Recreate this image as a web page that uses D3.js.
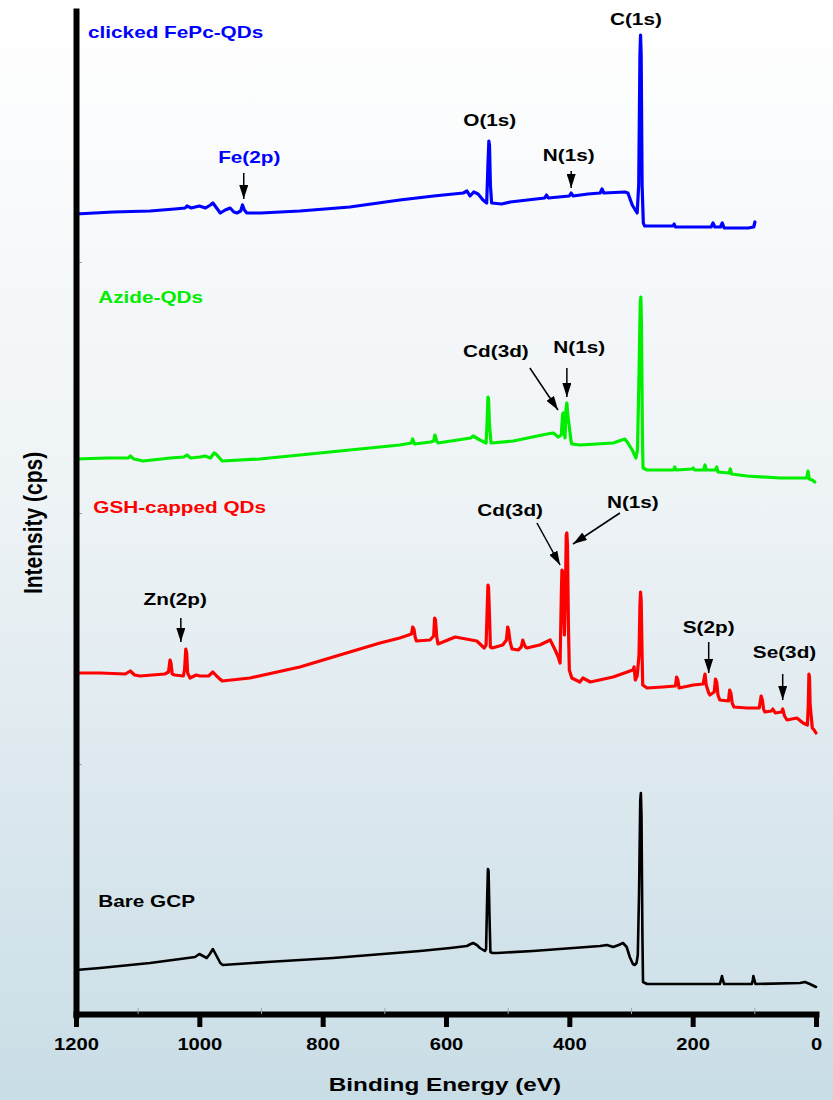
<!DOCTYPE html>
<html>
<head>
<meta charset="utf-8">
<script src="https://cdn.jsdelivr.net/npm/d3@7"></script>
<style>
  body { margin: 0; }
  svg { display: block; }
  text { font-family: "Liberation Sans", Arial, sans-serif; font-weight: bold; }
</style>
</head>
<body>
<div id="chart"></div>
<script>
// Survey XPS spectra, [binding energy (eV), stacked intensity (a.u.)]
const bareSpectrum = [
    [1200, 45], [1161, 47], [1080, 52], [1031, 56], [1007, 58], [1000, 61], [994, 59], [988, 57],
    [983, 61], [978, 66], [972, 59], [966, 52], [962, 50], [890, 53], [783, 57], [642, 64],
    [593, 67], [566, 69], [560, 71], [556, 72], [550, 70], [545, 67], [537, 64], [535, 66],
    [533.5, 110], [532, 146], [531, 144], [529.5, 100], [528, 63], [525, 62], [517, 62], [459, 64],
    [350, 69], [339, 70], [329, 68], [320, 70], [313, 72], [307, 68], [302, 58], [297, 51],
    [294, 50], [291, 52], [289, 60], [287, 120], [285, 215], [284, 222], [283, 200], [281.5, 80],
    [280.5, 33], [274, 31], [156, 31], [154, 35], [152.5, 39], [151, 35], [149, 31], [104, 31],
    [102.5, 35], [101.5, 39], [100, 35], [98, 31], [26, 32], [18, 33], [10, 31], [0, 28]
];

const gshSpectrum = [
    [1200, 342], [1161, 342], [1120, 341], [1112, 344], [1105, 340], [1096, 339], [1056, 341], [1050, 343],
    [1047.5, 355], [1046, 352], [1044, 341], [1040, 340], [1026, 339], [1024, 345], [1022, 366], [1020.5, 362],
    [1019, 342], [1015, 337], [1005, 340], [999, 339], [985, 339], [978, 343], [972, 339], [963, 334],
    [918, 337], [837, 348], [756, 363], [707, 372], [675, 377], [656, 381], [654, 388], [652, 386],
    [650, 378], [648, 374], [626, 375], [620, 379], [618.5, 397], [617, 395], [615, 378], [613, 371],
    [585, 378], [550, 374], [538, 367], [535, 370], [533.5, 400], [532, 430], [531, 428], [529.5, 400],
    [528, 368], [525, 367], [508, 370], [502, 375], [500, 388], [498.5, 385], [496, 373], [493, 366],
    [483, 365], [478, 368], [475.5, 375], [474, 372], [471, 368], [469, 367], [448, 370], [431, 375],
    [423, 365], [418, 358], [415, 352], [413, 420], [412, 445], [411, 443], [409.5, 410], [408, 380],
    [406.5, 420], [405, 480], [404, 482], [403, 470], [401.5, 390], [400, 345], [396, 337], [383, 333],
    [378, 337], [366, 333], [329, 338], [297, 345], [295, 348], [293, 335], [290, 339], [287, 360],
    [285.5, 410], [284.5, 423], [283.5, 415], [282, 360], [281, 330], [274, 327], [248, 328], [228, 329],
    [226, 338], [224, 335], [222, 327], [199, 330], [183, 331], [181, 338], [180, 341], [178, 330],
    [174, 322], [172, 320], [165, 323], [163, 336], [161, 333], [159, 320], [156, 315], [142, 314],
    [140, 325], [138, 322], [136, 312], [133, 308], [112, 307], [92, 307], [89, 319], [87, 315],
    [85, 306], [83, 303], [72, 304], [70, 306], [66, 302], [56, 303], [54, 306], [51, 299],
    [47, 295], [31, 297], [21, 292], [14, 290], [12.5, 310], [11.5, 341], [10.5, 338], [9.5, 310],
    [6, 287], [3, 285], [0, 282]
];

const azideSpectrum = [
    [1200, 556], [1150, 557], [1115, 557], [1112, 559], [1106, 556], [1091, 554], [1047, 557], [1025, 558],
    [1020, 560], [1014, 557], [999, 558], [991, 559], [982, 557], [976, 562], [973, 561], [963, 554],
    [902, 556], [837, 560], [756, 565], [675, 570], [656, 572], [654, 576], [651, 571], [625, 573],
    [620, 574], [618, 580], [615, 574], [613, 572], [560, 577], [556, 579], [545, 575], [535, 572],
    [533.5, 590], [532, 618], [531, 616], [529.5, 590], [527, 572], [491, 574], [436, 581], [426, 582],
    [418, 578], [413, 580], [411, 600], [410, 602], [408.5, 585], [407, 577], [405.5, 605], [404, 612],
    [402.5, 600], [400, 588], [397, 573], [396, 571], [383, 570], [329, 572], [310, 576], [305, 572],
    [298, 565], [292, 557], [289.5, 565], [287, 640], [285, 712], [284, 718], [283, 690], [281.5, 580],
    [280.5, 547], [274, 545], [231, 545], [229, 548], [227, 545], [201, 546], [199, 547], [197, 545],
    [182, 545], [180, 550], [178, 545], [163, 545], [161, 548], [159, 543], [141, 542], [139, 546],
    [137, 541], [112, 539], [58, 537], [15, 537], [13, 544], [11, 536], [6, 535], [2, 533]
];

const fepcSpectrum = [
    [1200, 801], [1140, 803], [1080, 804], [1040, 806], [1023, 807], [1020, 809], [1013, 807], [1000, 809],
    [990, 807], [982, 810], [978, 812], [972, 807], [966, 802], [958, 805], [950, 807], [944, 803],
    [939, 802], [933, 804], [930, 810], [927, 805], [923, 802], [900, 802], [837, 804], [756, 808],
    [675, 815], [620, 819], [572, 822], [566, 824], [561, 819], [555, 823], [548, 821], [540, 815],
    [534, 812], [532, 850], [530.5, 874], [529.5, 870], [528, 830], [526, 812], [510, 811], [496, 813],
    [440, 817], [437, 820], [434, 817], [400, 819], [397, 822], [394, 819], [370, 821], [350, 822],
    [347, 826], [344, 822], [310, 823], [305, 822], [298, 810], [290, 802], [287.5, 830], [285.5, 960],
    [284.5, 980], [283.5, 960], [282, 830], [280, 792], [278, 789], [232, 789], [230, 791], [228, 788],
    [170, 788], [167, 792], [164, 788], [155, 788], [152, 792], [149, 787], [110, 787], [101, 788],
    [99, 793]
];

const seriesNames = ["Bare GCP", "GSH-capped QDs", "Azide-QDs", "clicked FePc-QDs"];
const seriesData = [bareSpectrum, gshSpectrum, azideSpectrum, fepcSpectrum];
const seriesColors = ["#000000", "#ff0000", "#00ee00", "#0000ff"];
// where each series name sits: [binding energy at left edge, intensity at baseline]
const seriesLabelAt = [[1164, 108], [1172, 502], [1164, 712], [1180.5, 977]];

const xTicks = [1200, 1000, 800, 600, 400, 200, 0];
const xMinorTicks = [1100, 900, 700, 500, 300, 100];
const yTicks = [251, 502, 753];

// peak labels: text, label centre/baseline, arrow from -> to (eV, intensity)
const peakLabels = [
    { text: "C(1s)",  at: [292, 990] },
    { text: "O(1s)",  at: [529, 889] },
    { text: "N(1s)",  at: [401, 854], from: [397, 844], to: [397, 827] },
    { text: "Fe(2p)", at: [919, 852], from: [928, 842], to: [928, 816], series: 3 },
    { text: "Cd(3d)", at: [519, 658], from: [464, 647], to: [418.4, 605] },
    { text: "N(1s)",  at: [384, 662], from: [404, 647], to: [404, 618] },
    { text: "Cd(3d)", at: [496, 499], from: [452.5, 492], to: [415, 450] },
    { text: "N(1s)",  at: [297, 507], from: [318, 502], to: [394, 471] },
    { text: "Zn(2p)", at: [1039, 410], from: [1030, 397], to: [1030, 373] },
    { text: "S(2p)",  at: [174, 382], from: [174, 373], to: [174, 342] },
    { text: "Se(3d)", at: [51, 357], from: [54, 341], to: [54, 315] }
];

const width = 833, height = 1100;
const stretch = 1.22;

const svg = d3.select("#chart").append("svg")
    .attr("width", width)
    .attr("height", height);

const defs = svg.append("defs");
const bg = defs.append("linearGradient").attr("id", "bg")
    .attr("x1", 0).attr("y1", 0).attr("x2", 0).attr("y2", 1);
bg.append("stop").attr("offset", "0%").attr("stop-color", "#ffffff");
bg.append("stop").attr("offset", "45%").attr("stop-color", "#eef3f6");
bg.append("stop").attr("offset", "100%").attr("stop-color", "#c9dde6");

defs.append("marker").attr("id", "head")
    .attr("markerUnits", "userSpaceOnUse")
    .attr("viewBox", "0 0 14 9")
    .attr("markerWidth", 14).attr("markerHeight", 9)
    .attr("refX", 14).attr("refY", 4.5)
    .attr("orient", "auto")
    .append("path").attr("d", "M0,0L14,4.5L0,9Z").attr("fill", "#000");

svg.append("rect").attr("width", width).attr("height", height).attr("fill", "url(#bg)");

const x = d3.scaleLinear().domain([1200, 0]).range([76, 816]);
const y = d3.scaleLinear().domain([0, 1004]).range([1015, 11]);

// stretch text horizontally like the original figure
function widen(sel, factor) {
    sel.each(function() {
        const len = this.getComputedTextLength();
        d3.select(this).attr("textLength", len * factor).attr("lengthAdjust", "spacingAndGlyphs");
    });
}

// Spectra
const line = d3.line().x(d => x(d[0])).y(d => y(d[1]));
svg.append("g").selectAll("path")
    .data(seriesData)
    .enter().append("path")
    .attr("d", line)
    .attr("fill", "none")
    .attr("stroke", (d, i) => seriesColors[i])
    .attr("stroke-width", (d, i) => i == 0 ? 2.6 : 3.2)
    .attr("stroke-linejoin", "round")
    .attr("stroke-linecap", "round");

// Axes
const xAxis = svg.append("g")
    .attr("transform", "translate(0,1014)")
    .call(d3.axisBottom(x).tickValues(xTicks).tickFormat(d3.format("d"))
        .tickSize(13).tickSizeOuter(0).tickPadding(12));
xAxis.select(".domain").attr("stroke", "#000").attr("stroke-width", 6).attr("stroke-linecap", "square");
xAxis.selectAll(".tick line").attr("stroke", "#000").attr("stroke-width", 5);
xAxis.selectAll(".tick text")
    .attr("fill", "#000")
    .style("font-size", "16px")
    .call(widen, 1.26);

const xMinor = svg.append("g")
    .attr("transform", "translate(0,1014)")
    .call(d3.axisBottom(x).tickValues(xMinorTicks).tickSize(-6).tickFormat(""));
xMinor.select(".domain").remove();
xMinor.selectAll(".tick line").attr("stroke", "#9aa6ab").attr("stroke-width", 1);

const yAxis = svg.append("g")
    .attr("transform", "translate(76,0)")
    .call(d3.axisLeft(y).tickValues(yTicks).tickSize(-6).tickSizeOuter(0).tickFormat(""));
yAxis.select(".domain").attr("stroke", "#000").attr("stroke-width", 6).attr("stroke-linecap", "square");
yAxis.selectAll(".tick line").attr("stroke", "#9aa6ab").attr("stroke-width", 1);
yAxis.select(".domain").raise();

svg.append("text")
    .attr("x", 445)
    .attr("y", 1091)
    .attr("text-anchor", "middle")
    .style("font-size", "19px")
    .text("Binding Energy (eV)")
    .call(widen, 1.28);

svg.append("text")
    .attr("transform", `translate(42,523) scale(${stretch},1) rotate(-90)`)
    .attr("text-anchor", "middle")
    .style("font-size", "21px")
    .text("Intensity (cps)");

// Series names
svg.append("g").selectAll("text")
    .data(seriesNames)
    .enter().append("text")
    .attr("x", (d, i) => x(seriesLabelAt[i][0]))
    .attr("y", (d, i) => y(seriesLabelAt[i][1]))
    .attr("fill", (d, i) => seriesColors[i])
    .style("font-size", "17px")
    .text(d => d)
    .call(widen, stretch);

// Peak annotations
const notes = svg.append("g");
notes.selectAll("line")
    .data(peakLabels.filter(d => d.from))
    .enter().append("line")
    .attr("x1", d => x(d.from[0]))
    .attr("y1", d => y(d.from[1]))
    .attr("x2", d => x(d.to[0]))
    .attr("y2", d => y(d.to[1]))
    .attr("stroke", "#000")
    .attr("stroke-width", 1.5)
    .attr("marker-end", "url(#head)");

notes.selectAll("text")
    .data(peakLabels)
    .enter().append("text")
    .attr("x", d => x(d.at[0]))
    .attr("y", d => y(d.at[1]))
    .attr("text-anchor", "middle")
    .attr("fill", d => d.series != null ? seriesColors[d.series] : "#000")
    .style("font-size", "17px")
    .text(d => d.text)
    .call(widen, stretch);
</script>
</body>
</html>
